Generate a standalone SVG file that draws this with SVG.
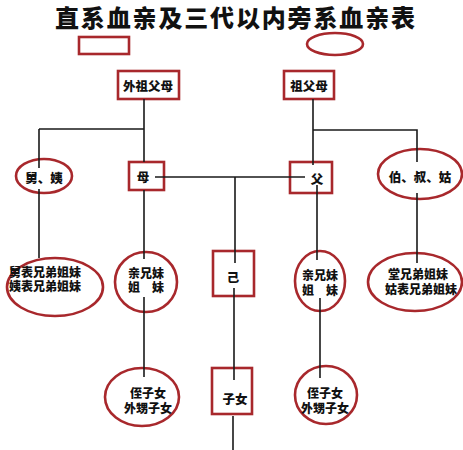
<svg xmlns="http://www.w3.org/2000/svg" width="463" height="450" viewBox="0 0 463 450">
<style>
.box{fill:#fff;stroke:#a8282c;stroke-width:2.6}
.ell{fill:#fff;stroke:#a8282c;stroke-width:2.6}
.ln{fill:none;stroke:#1a1a1a;stroke-width:1.6}
.t{font-family:"Noto Sans CJK SC","Noto Sans CJK JP",sans-serif;font-weight:900;font-size:12.5px;fill:#111;text-anchor:middle;dominant-baseline:central}
.s{font-size:12px}
.title{font-family:"Noto Sans CJK SC","Noto Sans CJK JP",sans-serif;font-weight:900;font-size:24px;fill:#111}
</style>
<rect width="463" height="450" fill="#fff"/>
<text class="title" x="55" y="27" textLength="360" lengthAdjust="spacing">直系血亲及三代以内旁系血亲表</text>
<g id="legend">
<rect class="box" x="79" y="37" width="50" height="17"/>
<ellipse class="ell" cx="335" cy="44" rx="28" ry="11"/>
</g>
<g id="n-waizufumu">
<rect class="box" x="118" y="71" width="61" height="28"/>
<text class="t" x="148" y="85">外祖父母</text>
</g>
<g id="n-zufumu">
<rect class="box" x="284" y="71" width="50" height="28"/>
<text class="t" x="309" y="85">祖父母</text>
</g>
<g id="n-jiuyi">
<ellipse class="ell" cx="44" cy="176" rx="28" ry="17"/>
<text class="t" x="44" y="177">舅、姨</text>
</g>
<g id="n-mu">
<rect class="box" x="129" y="162" width="35" height="28"/>
<text class="t" x="143" y="176">母</text>
</g>
<g id="n-fu">
<rect class="box" x="290" y="162" width="42" height="31"/>
<text class="t" x="317" y="178">父</text>
</g>
<g id="n-boshugu">
<ellipse class="ell" cx="420" cy="174" rx="42" ry="25"/>
<text class="t" x="420" y="176">伯、叔、姑</text>
</g>
<g id="n-biaoxiongdi">
<ellipse class="ell" cx="55" cy="287" rx="48" ry="29"/>
<text class="t s" x="45" y="271">舅表兄弟姐妹</text>
<text class="t s" x="45" y="285">姨表兄弟姐妹</text>
</g>
<g id="n-qinxiongmei-l">
<ellipse class="ell" cx="146" cy="282" rx="31" ry="30"/>
<text class="t s" x="146" y="272">亲兄妹</text>
<text class="t s" x="146" y="286">姐　妹</text>
</g>
<g id="n-ji">
<rect class="box" x="213" y="251" width="41" height="45"/>
<text class="t" x="233" y="276">己</text>
</g>
<g id="n-qinxiongmei-r">
<ellipse class="ell" cx="320" cy="281" rx="25" ry="30"/>
<text class="t s" x="320" y="274">亲兄妹</text>
<text class="t s" x="320" y="289">姐　妹</text>
</g>
<g id="n-tangxiongdi">
<ellipse class="ell" cx="415" cy="282" rx="47" ry="29"/>
<text class="t s" x="418" y="273">堂兄弟姐妹</text>
<text class="t s" x="421" y="288">姑表兄弟姐妹</text>
</g>
<g id="n-zhizinv-l">
<ellipse class="ell" cx="142" cy="397" rx="37" ry="29"/>
<text class="t s" x="148" y="392">侄子女</text>
<text class="t s" x="148" y="407">外甥子女</text>
</g>
<g id="n-zinv">
<rect class="box" x="212" y="368" width="40" height="46"/>
<text class="t" x="235" y="398">子女</text>
</g>
<g id="n-zhizinv-r">
<ellipse class="ell" cx="326" cy="395" rx="31" ry="29"/>
<text class="t s" x="325" y="392">侄子女</text>
<text class="t s" x="325" y="407">外甥子女</text>
</g>
<g id="connectors">
<path class="ln" d="M144,99 V162 M144,190 V259 M144,297 V377"/>
<path class="ln" d="M39,129 H144 M39,129 V168 M39,189 V258"/>
<path class="ln" d="M313,99 V165 M317,185 V260 M320,298 V378"/>
<path class="ln" d="M313,130 H417 V162 M417,193 V263"/>
<path class="ln" d="M155,177 H305 M235,177 V263 M234,288 V380 M233,416 V450"/>
</g>
</svg>
